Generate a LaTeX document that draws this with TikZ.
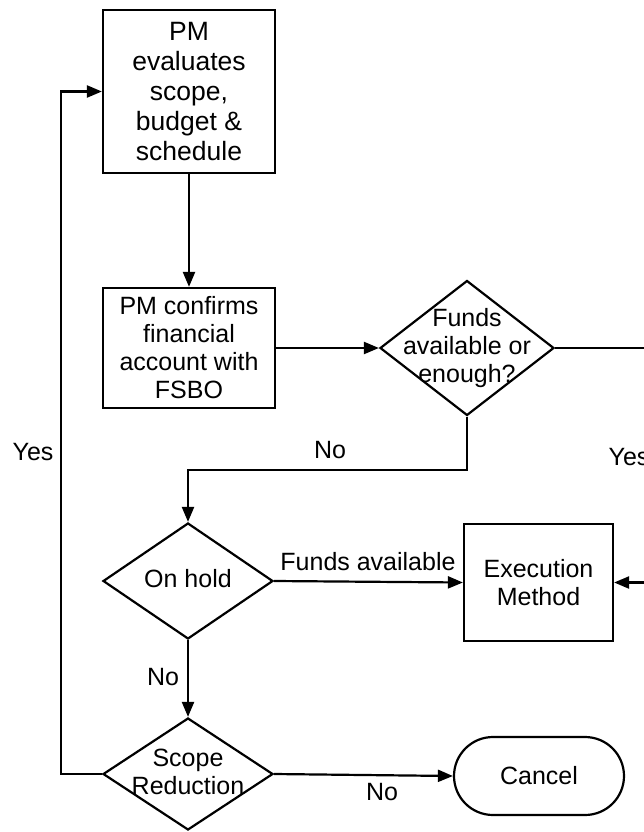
\documentclass[tikz,border=0pt]{standalone}
\usepackage{fontspec}
\setmainfont{Liberation Sans}
\usetikzlibrary{arrows.meta,shapes.geometric}
\newcommand{\zt}[1]{\smash{\makebox[0pt]{\raisebox{-7pt}{\begin{tabular}{@{}c@{}}#1\end{tabular}}}}}
\begin{document}
\begin{tikzpicture}[x=1pt,y=-1pt,
  every node/.style={font=\fontsize{25}{28}\selectfont},
  proc/.style={draw, line width=2.2pt, rectangle, align=center, inner sep=0pt},
  dec/.style={draw, line width=2.2pt, diamond, inner sep=0pt},
  term/.style={draw, line width=2.2pt, rectangle, rounded corners=39pt, inner sep=0pt},
  conn/.style={line width=2.2pt},
  arr/.style={conn, -{Triangle[length=15pt,width=12pt]}},
  lbl/.style={inner sep=0pt}]
\useasboundingbox (0,0) rectangle (644,832);
\node[proc, minimum width=172pt, minimum height=163pt, font=\fontsize{26.5}{30}\selectfont] (b1) at (189,91.5) {PM\\evaluates\\scope,\\budget \&\\schedule};
\node[proc, minimum width=172pt, minimum height=120pt] (b2) at (189,348) {PM confirms\\financial\\account with\\FSBO};
\node[dec, minimum width=174pt, minimum height=135pt] (d1) at (467,348) {\zt{Funds\\available or\\enough?}};
\node[dec, minimum width=170pt, minimum height=116pt] (d2) at (188,581) {\zt{On hold}};
\node[proc, minimum width=149pt, minimum height=117pt] (ex) at (538.5,582.5) {Execution\\Method};
\node[dec, minimum width=170pt, minimum height=112pt] (d3) at (188,774) {\zt{Scope\\Reduction}};
\node[term, minimum width=170pt, minimum height=78pt] (cn) at (539,776) {Cancel};
\coordinate (rt) at (690,348);
\coordinate (nj) at (467,470);
\coordinate (lf) at (61,774);
\draw[arr] (b1.south) -- (b2.north);
\draw[arr] (b2.east) -- (d1.west);
\draw[arr] (d1.east) -- (rt) |- (ex.east);
\draw[arr] (d1.south) -- (nj) -| (d2.north);
\draw[arr] (d2.east) -- (ex.west);
\draw[arr] (d2.south) -- (d3.north);
\draw[arr] (d3.east) -- (cn.west);
\draw[arr] (d3.west) -- (lf) |- (b1.west);
\node[lbl] (lno1) at (330,450) {No};
\node[lbl] (lyes2) at (629,457) {Yes};
\node[lbl] (lfa) at (368,562) {Funds available};
\node[lbl] (lno2) at (163,677) {No};
\node[lbl] (lno3) at (382,792) {No};
\node[lbl] (lyes1) at (33,452) {Yes};
\end{tikzpicture}
\end{document}
